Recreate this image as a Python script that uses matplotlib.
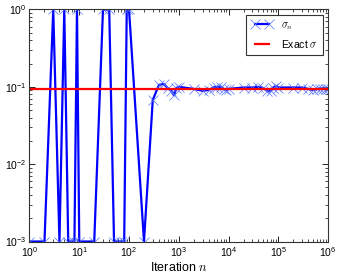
import matplotlib
matplotlib.use("Agg")
import matplotlib.pyplot as plt
import numpy as np

# iteration numbers at which sigma_n was recorded
iterations = [1, 2, 3, 4, 5, 6, 7, 8, 9, 10,
              20, 30, 40, 50, 60, 70, 80, 90, 100,
              200, 300, 400, 500, 600, 700, 800, 900, 1000,
              2000, 3000, 4000, 5000, 6000, 7000, 8000, 9000, 10000,
              20000, 30000, 40000, 50000, 60000, 70000, 80000, 90000, 100000,
              200000, 300000, 400000, 500000, 600000, 700000, 800000, 900000, 1000000]
sigma_n = [1e-3, 1e-3, 1.0, 1e-3, 1.0, 1e-3, 1e-3, 1e-3, 1.0, 1e-3,
           1e-3, 1.0, 1.0, 1e-3, 1e-3, 1e-3, 1e-3, 1.0, 1.0,
           1e-3, 0.0675, 0.106, 0.109, 0.096, 0.089, 0.078, 0.096, 0.100,
           0.094, 0.089, 0.091, 0.098, 0.100, 0.100, 0.094, 0.091, 0.094,
           0.098, 0.098, 0.100, 0.096, 0.089, 0.089, 0.098, 0.103, 0.098,
           0.098, 0.098, 0.094, 0.091, 0.094, 0.095, 0.094, 0.095, 0.094]
exact_sigma = 0.094
x_range = [1, 1e6]

plt.rcParams['mathtext.fontset'] = 'cm'
plt.rcParams['font.family'] = ['Liberation Sans', 'DejaVu Sans']

fig = plt.figure(figsize=(3.41, 2.75), dpi=100)
ax = fig.add_axes([0.0865, 0.1218, 0.8755, 0.8437])

ax.plot(iterations, sigma_n, color='b', lw=1.6, marker='x', ms=6.5, mew=0.5,
        mec='#5577ff', label=r'$\sigma_n$')
ax.plot(x_range, [exact_sigma, exact_sigma], color='r', lw=1.6, label=r'Exact $\sigma$')

ax.set_xscale('log')
ax.set_yscale('log')
ax.set_xlim(1, 1e6)
ax.set_ylim(1e-3, 1)
ax.set_xlabel(r'Iteration $n$', fontsize=9, labelpad=1)

ax.tick_params(which='both', direction='in', top=True, right=True, labelsize=7.5)
ax.tick_params(which='major', length=4, width=0.6, pad=3)
ax.tick_params(axis='y', which='major', pad=2)
ax.tick_params(which='minor', length=2, width=0.5)
for s in ax.spines.values():
    s.set_linewidth(0.8)
    s.set_color('#333333')

leg = ax.legend(loc='upper right', fontsize=7.5, numpoints=2, fancybox=False,
                framealpha=1, edgecolor='#333333', borderaxespad=0.5,
                handlelength=2.0, labelspacing=0.6, borderpad=0.5)
leg.get_frame().set_linewidth(0.8)

fig.savefig('out.png', dpi=100)
